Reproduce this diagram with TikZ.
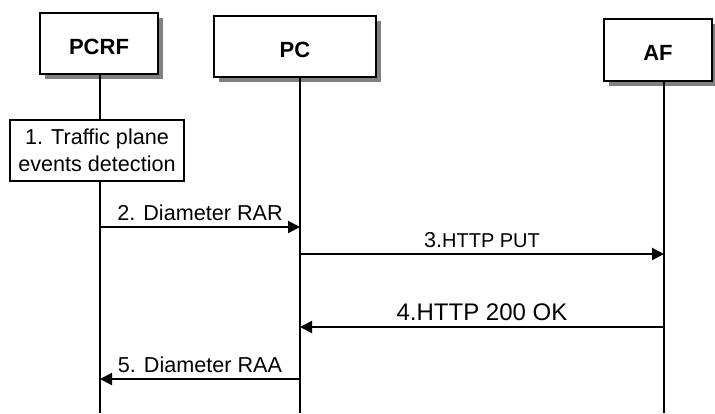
\documentclass[tikz,border=0pt]{standalone}
\usepackage{fontspec}
\setmainfont{Liberation Sans}
\usetikzlibrary{arrows.meta, calc, positioning, shadows}
\tikzset{%
    actor/.style={%
        rectangle,
        draw=black, fill=white,
        line width=0.75pt,
        minimum height=30.5pt,
        inner sep=0pt,
        text height=10.8pt, text depth=0pt,
        font=\fontsize{11}{13}\selectfont\bfseries,
        drop shadow={shadow xshift=2.5pt, shadow yshift=-2.5pt,
                     fill=black!50, opacity=1},
    },
    event/.style={%
        rectangle,
        draw=black, fill=white,
        line width=0.6pt,
        minimum width=87pt,
        minimum height=30.5pt,
        inner sep=0pt,
        align=center,
        font=\fontsize{10.8}{13.5}\selectfont,
    },
    lifeline/.style={line width=0.6pt},
    msg/.style={%
        -{Triangle[length=6pt, width=6pt]},
        line width=1pt,
    },
    msglabel/.style={%
        midway, above,
        inner sep=2.5pt,
        font=\fontsize{10.8}{13}\selectfont,
    },
}

\begin{document}
\begin{tikzpicture}[x=0.5pt, y=-0.5pt]
	\useasboundingbox (0,0) rectangle (715,413);

	\node [actor, minimum width=59pt] at (99, 43.5) (pcrf) {PCRF};
	\node [actor, minimum width=81pt] at (295, 46.5) (pc) {PC};
	\node [actor, minimum width=54pt, minimum height=31pt] at (658, 50) (af) {AF};

	\coordinate (pcrf_bot) at (100, 413);
	\coordinate (pc_bot) at (300, 413);
	\coordinate (af_bot) at (664, 413);

	\draw[lifeline] (pcrf.south -| pcrf_bot) -- (pcrf_bot);
	\draw[lifeline] (pc.south -| pc_bot) -- (pc_bot);
	\draw[lifeline] (af.south -| af_bot) -- (af_bot);

	\node [event] at (97, 150.5) (detect) {1. Traffic plane\\events detection};

	% message rows on each lifeline
	\foreach \n/\y in {2/227, 3/254, 4/327, 5/379} {
		\coordinate (pcrf\n) at (100, \y);
		\coordinate (pc\n) at (300, \y);
		\coordinate (af\n) at (664, \y);
	}

	\draw[msg] (pcrf2) -- (pc2) node[msglabel] (rar) {2. Diameter RAR};
	\draw[msg] (pc3) -- (af3) node[msglabel] (put) {3.{\fontsize{10}{11}\selectfont HTTP PUT}};
	\draw[msg] (af4) -- (pc4) node[msglabel, font=\fontsize{12}{14}\selectfont] (ok) {4.HTTP 200 OK};
	\draw[msg] (pc5) -- (pcrf5) node[msglabel] (raa) {5. Diameter RAA};
\end{tikzpicture}
\end{document}
